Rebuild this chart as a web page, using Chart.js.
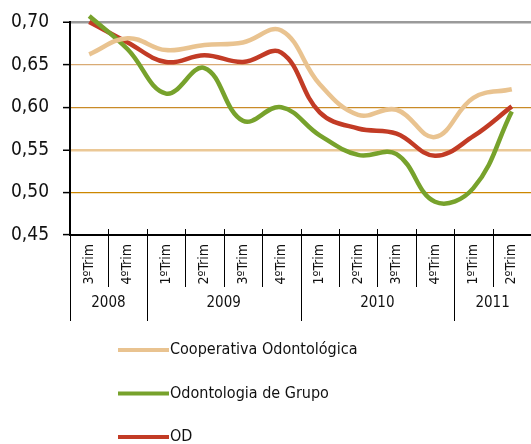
<!DOCTYPE html>
<html>
<head>
<meta charset="utf-8">
<script src="https://cdn.jsdelivr.net/npm/chart.js@4/dist/chart.umd.min.js"></script>
<style>
  html, body { margin: 0; padding: 0; background: #fff; }
  #wrap { width: 531px; height: 444px; }
</style>
</head>
<body>
<div id="wrap"><canvas id="chart" width="531" height="444"></canvas></div>
<script>
const categories = ['3ºTrim', '4ºTrim', '1ºTrim', '2ºTrim', '3ºTrim', '4ºTrim',
                    '1ºTrim', '2ºTrim', '3ºTrim', '4ºTrim', '1ºTrim', '2ºTrim'];
const years = ['2008', '2009', '2010', '2011'];
const yearSpans = [2, 4, 4, 2];

const cooperativa = [0.662, 0.681, 0.667, 0.673, 0.676, 0.690, 0.627, 0.591, 0.597, 0.565, 0.611, 0.621];
const grupo       = [0.707, 0.668, 0.616, 0.646, 0.584, 0.600, 0.567, 0.544, 0.545, 0.489, 0.505, 0.595];
const od          = [0.700, 0.676, 0.653, 0.661, 0.653, 0.664, 0.594, 0.575, 0.569, 0.543, 0.566, 0.601];

const FONT = '"Liberation Sans Narrow", "DejaVu Sans Condensed", "Liberation Sans", sans-serif';

// grid line colour for each y value
function gridColor(v) {
  const k = Math.round(v * 100);
  if (k === 70) return '#9a9a9a';
  if (k === 65) return '#d9ab74';
  if (k === 60) return '#c98b28';
  if (k === 55) return '#ebc896';
  if (k === 50) return '#cc8700';
  return '#000';
}
function gridWidth(v) {
  const k = Math.round(v * 100);
  if (k === 70 || k === 55) return 2.5;
  return 1.2;
}

const extras = {
  id: 'extras',
  afterDraw(chart) {
    const c = chart.ctx;
    const x = chart.scales.x;
    const top = chart.chartArea.bottom;
    const half = (x.getPixelForValue(1) - x.getPixelForValue(0)) / 2;
    c.save();
    c.strokeStyle = '#000';
    c.lineWidth = 1;
    // separators between quarters
    for (let i = 1; i < categories.length; i++) {
      const px = Math.round(x.getPixelForValue(i) - half) + 0.5;
      c.beginPath(); c.moveTo(px, top - 6); c.lineTo(px, top + 52); c.stroke();
    }
    // year groups
    let start = 0;
    c.fillStyle = '#111';
    c.font = '15px ' + FONT;
    c.textAlign = 'center';
    c.textBaseline = 'middle';
    years.forEach((y, gi) => {
      const left = x.getPixelForValue(start) - half;
      const right = x.getPixelForValue(start + yearSpans[gi] - 1) + half;
      const px = Math.round(left) + 0.5;
      c.beginPath(); c.moveTo(px, top); c.lineTo(px, top + 86); c.stroke();
      c.fillText(y, (left + right) / 2, top + 68);
      start += yearSpans[gi];
    });
    // legend, one item per row
    c.textAlign = 'left';
    c.font = '16px ' + FONT;
    chart.data.datasets.forEach((ds, i) => {
      const ly = 350 + i * 43.5;
      c.strokeStyle = ds.borderColor;
      c.lineWidth = 4;
      c.beginPath(); c.moveTo(118, ly); c.lineTo(169, ly); c.stroke();
      c.fillStyle = '#111';
      c.fillText(ds.label, 170, ly);
    });
    c.restore();
  }
};

new Chart(document.getElementById('chart').getContext('2d'), {
  type: 'line',
  data: {
    labels: categories,
    datasets: [
      { label: 'Cooperativa Odontológica', data: cooperativa, borderColor: '#e9c390' },
      { label: 'Odontologia de Grupo', data: grupo, borderColor: '#77a22c' },
      { label: 'OD', data: od, borderColor: '#c23b25' }
    ]
  },
  options: {
    responsive: false,
    animation: false,
    layout: { padding: { top: 22, right: 0, left: 0, bottom: 0 } },
    elements: {
      line: { borderWidth: 4.5, tension: 0.4, capBezierPoints: true },
      point: { radius: 0 }
    },
    datasets: { line: { clip: false } },
    plugins: {
      legend: { display: false },
      tooltip: { enabled: false }
    },
    scales: {
      x: {
        offset: true,
        afterFit(scale) {
          scale.height = 209;
          scale.paddingLeft = 0;
          scale.paddingRight = 0;
        },
        grid: { drawOnChartArea: false, drawTicks: false, offset: true },
        border: { color: '#000', width: 2 },
        ticks: {
          minRotation: 90, maxRotation: 90, padding: 9,
          color: '#111', font: { family: FONT, size: 14 }
        }
      },
      y: {
        min: 0.45, max: 0.70,
        afterFit(scale) {
          scale.width = 70;
          scale.paddingTop = 0;
          scale.paddingBottom = 0;
        },
        border: { color: '#000', width: 2 },
        grid: {
          color: ctx => gridColor(ctx.tick.value),
          lineWidth: ctx => gridWidth(ctx.tick.value),
          tickColor: '#000', tickLength: 7, tickWidth: 1.5
        },
        ticks: {
          stepSize: 0.05, padding: 14, color: '#111',
          font: { family: FONT, size: 19 },
          callback: v => v.toFixed(2).replace('.', ',')
        }
      }
    }
  },
  plugins: [extras]
});
</script>
</body>
</html>
